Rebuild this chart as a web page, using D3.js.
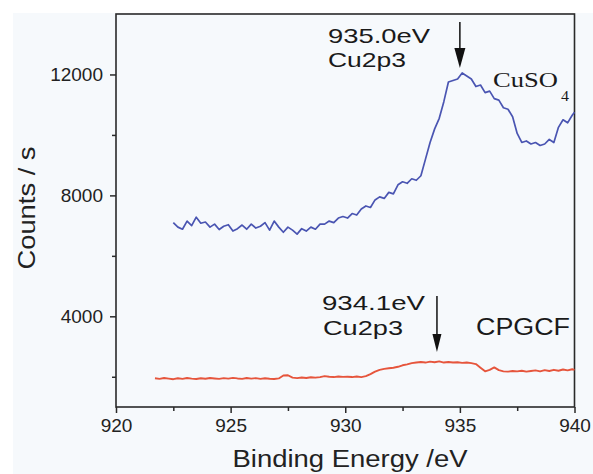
<!DOCTYPE html>
<html><head><meta charset="utf-8">
<script src="https://cdn.jsdelivr.net/npm/d3@7/dist/d3.min.js"></script>
<style>body{margin:0;background:#fff}svg{display:block}</style>
</head><body>
<svg id="c" width="593" height="474"></svg>
<script>
const xTicks = [920, 925, 930, 935, 940];
const xMinorTicks = [922.5, 927.5, 932.5, 937.5];
const yTicks = [4000, 8000, 12000];
const yMinorTicks = [2000, 6000, 10000];

const cuso4Energy = [922.5,922.7,922.9,923.1,923.3,923.5,923.7,923.9,924.1,924.3,924.5,924.7,924.9,925.1,925.3,925.5,925.7,925.9,926.1,926.3,926.5,926.7,926.9,927.1,927.3,927.5,927.7,927.9,928.1,928.3,928.5,928.7,928.9,929.1,929.3,929.5,929.7,929.9,930.1,930.3,930.5,930.7,930.9,931.1,931.3,931.5,931.7,931.9,932.1,932.3,932.5,932.7,932.9,933.1,933.3,933.5,933.7,933.9,934.1,934.3,934.5,934.7,934.9,935.1,935.3,935.5,935.7,935.9,936.1,936.3,936.5,936.7,936.9,937.1,937.3,937.5,937.7,937.9,938.1,938.3,938.5,938.7,938.9,939.1,939.3,939.5,939.7,939.9,940.0];
const cuso4Counts = [7100,6950,6880,7150,7000,7280,7080,7120,6950,7050,6870,6980,7030,6820,6900,7020,6880,7050,6920,6980,7100,6850,7150,6950,6780,6950,6850,6720,6900,6820,6950,6880,7050,7050,7150,7100,7250,7300,7250,7400,7350,7550,7650,7600,7850,7950,7900,8100,8050,8350,8450,8400,8550,8500,8650,9200,9750,10200,10550,11100,11750,11800,11850,12050,11950,11850,11600,11650,11400,11450,11200,11150,10900,10850,10600,10050,9750,9800,9700,9750,9650,9700,9850,9750,10250,10500,10400,10650,10750];

const cpgcfEnergy = [921.7,921.9,922.1,922.3,922.5,922.7,922.9,923.1,923.3,923.5,923.7,923.9,924.1,924.3,924.5,924.7,924.9,925.1,925.3,925.5,925.7,925.9,926.1,926.3,926.5,926.7,926.9,927.1,927.3,927.5,927.7,927.9,928.1,928.3,928.5,928.7,928.9,929.1,929.3,929.5,929.7,929.9,930.1,930.3,930.5,930.7,930.9,931.1,931.3,931.5,931.7,931.9,932.1,932.3,932.5,932.7,932.9,933.1,933.3,933.5,933.7,933.9,934.1,934.3,934.5,934.7,934.9,935.1,935.3,935.5,935.7,935.9,936.1,936.3,936.5,936.7,936.9,937.1,937.3,937.5,937.7,937.9,938.1,938.3,938.5,938.7,938.9,939.1,939.3,939.5,939.7,939.9,940.0];
const cpgcfCounts = [1950,1930,1960,1940,1920,1950,1930,1960,1940,1925,1950,1935,1960,1945,1930,1955,1940,1965,1945,1930,1960,1940,1955,1930,1950,1935,1925,1945,2040,2050,1970,1955,1975,1960,1985,1970,1990,2020,2000,1990,2010,1995,2000,1990,2010,1990,2020,2090,2170,2230,2260,2280,2300,2330,2380,2410,2450,2470,2490,2470,2500,2480,2510,2470,2490,2470,2480,2460,2470,2450,2420,2300,2180,2230,2310,2220,2180,2170,2190,2180,2200,2170,2190,2210,2180,2220,2190,2230,2200,2240,2210,2250,2230];

const svg = d3.select("#c");
const W = 593, H = 474;
const L = 116, R = 574.5, T = 14, B = 407;

svg.append("rect").attr("x", 13).attr("y", 13).attr("width", W - 13).attr("height", H - 13).attr("fill", "#f6f9fc");

const x = d3.scaleLinear().domain([920, 940]).range([L, R]);
const y = d3.scaleLinear().domain([1000, 14000]).range([B, T]);

const axisColor = "#2a2a2a";
const font = "'Liberation Sans', Arial, sans-serif";

// frame
svg.append("rect").attr("x", L).attr("y", T).attr("width", R - L).attr("height", B - T)
  .attr("fill", "none").attr("stroke", axisColor).attr("stroke-width", 1.6);

// x axis
const gx = svg.append("g").attr("transform", `translate(0,${B})`)
  .call(d3.axisBottom(x).tickValues(xTicks).tickSize(6).tickPadding(6).tickFormat(d3.format("d")));
gx.append("g").call(d3.axisBottom(x).tickValues(xMinorTicks).tickSize(4).tickFormat(""));
// y axis
const gy = svg.append("g").attr("transform", `translate(${L},0)`)
  .call(d3.axisLeft(y).tickValues(yTicks).tickSize(6).tickPadding(7).tickFormat(d3.format("d")));
gy.append("g").call(d3.axisLeft(y).tickValues(yMinorTicks).tickSize(4).tickFormat(""));

[gx, gy].forEach(g => {
  g.selectAll(".domain").remove();
  g.selectAll("line").attr("stroke", axisColor).attr("stroke-width", 1.5);
  g.selectAll("text").attr("font-family", font).attr("font-size", 19).attr("fill", "#222");
});

// lines
const line = d3.line().x(d => x(d[0])).y(d => y(d[1]));
svg.append("path").datum(cuso4Energy.map((e, i) => [e, cuso4Counts[i]]))
  .attr("d", line).attr("fill", "none").attr("stroke", "#4a55b2").attr("stroke-width", 1.7).attr("stroke-linejoin", "round");
svg.append("path").datum(cpgcfEnergy.map((e, i) => [e, cpgcfCounts[i]]))
  .attr("d", line).attr("fill", "none").attr("stroke", "#e6553c").attr("stroke-width", 1.9).attr("stroke-linejoin", "round");

// axis titles
svg.append("text").attr("x", 350).attr("y", 467).attr("text-anchor", "middle")
  .attr("font-family", font).attr("font-size", 23).attr("fill", "#222")
  .attr("textLength", 235).attr("lengthAdjust", "spacingAndGlyphs").text("Binding Energy /eV");
svg.append("text").attr("transform", "translate(35,208) rotate(-90)").attr("text-anchor", "middle")
  .attr("font-family", font).attr("font-size", 24).attr("fill", "#222")
  .attr("textLength", 123).attr("lengthAdjust", "spacingAndGlyphs").text("Counts / s");

// annotations
function label(txt, xx, yy, len, size, fam) {
  svg.append("text").attr("x", xx).attr("y", yy).attr("font-family", fam || font).attr("font-size", size)
    .attr("fill", "#1a1a1a").attr("textLength", len).attr("lengthAdjust", "spacingAndGlyphs").text(txt);
}
const serif = "'Liberation Serif', 'Times New Roman', serif";
label("935.0eV", 328, 43, 102, 21);
label("Cu2p3", 328, 67, 78, 21);
label("934.1eV", 322, 310, 103, 21);
label("Cu2p3", 323, 335, 80, 21);
label("CPGCF", 476, 335, 94, 23);
label("CuSO", 493, 87, 65, 21, serif);
label("4", 561, 101, 8, 14, serif);

function arrow(xv, y0, y1, headLen, halfW) {
  const xx = x(xv);
  svg.append("line").attr("x1", xx).attr("x2", xx).attr("y1", y0).attr("y2", y1 - headLen + 2)
    .attr("stroke", "#111").attr("stroke-width", 1.5);
  svg.append("path").attr("d", `M${xx - halfW},${y1 - headLen} L${xx + halfW},${y1 - headLen} L${xx},${y1} Z`).attr("fill", "#111");
}
arrow(935.0, 22, 68, 20, 5.5);
arrow(934.0, 296, 352, 18, 4.5);
</script>
</body></html>
